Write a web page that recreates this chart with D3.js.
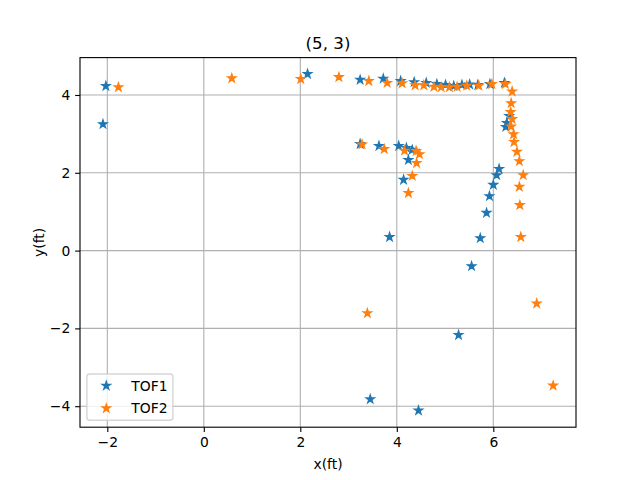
<!DOCTYPE html>
<html>
<head>
<meta charset="utf-8">
<script src="https://cdn.jsdelivr.net/npm/d3@7"></script>
<style>
  html, body { margin: 0; padding: 0; background: #fff; }
  svg { display: block; font-family: "DejaVu Sans", sans-serif; }
</style>
</head>
<body>
<svg id="chart" width="640" height="480"></svg>
<script>
// ---- Data ----
const title = "(5, 3)";
const xLabel = "x(ft)";
const yLabel = "y(ft)";
const seriesNames = ["TOF1", "TOF2"];
const seriesColors = ["#1f77b4", "#ff7f0e"];
const xTicks = [-2, 0, 2, 4, 6];
const yTicks = [-4, -2, 0, 2, 4];

const tof1X = [-2.03, -2.09, 2.15, 3.24, 3.72, 4.08, 4.36, 4.61, 4.83, 5.01, 5.18, 5.35, 5.51, 5.68, 5.93, 6.23,
  6.33, 6.28, 6.26, 6.12, 6.07, 6.00, 5.92, 5.86, 5.73, 5.55, 5.28, 4.45, 3.45,
  3.24, 3.63, 4.04, 4.20, 4.32, 4.24, 4.14, 3.85];
const tof1Y = [4.23, 3.25, 4.54, 4.39, 4.42, 4.36, 4.33, 4.31, 4.28, 4.26, 4.23, 4.26, 4.27, 4.26, 4.28, 4.31,
  3.46, 3.28, 3.18, 2.10, 1.94, 1.69, 1.40, 0.97, 0.32, -0.40, -2.17, -4.11, -3.82,
  2.74, 2.69, 2.69, 2.64, 2.59, 2.33, 1.82, 0.35];

const tof2X = [-1.77, 0.58, 2.01, 2.80, 3.42, 3.80, 4.11, 4.38, 4.56, 4.77, 4.92, 5.09, 5.25, 5.45, 5.70, 5.97, 6.25,
  6.39, 6.37, 6.36, 6.39, 6.37, 6.42, 6.43, 6.49, 6.54, 6.62, 6.54, 6.55, 6.57,
  6.90, 7.24, 3.39,
  3.28, 3.74, 4.16, 4.40, 4.47, 4.41, 4.32, 4.24];
const tof2Y = [4.20, 4.43, 4.41, 4.46, 4.36, 4.31, 4.30, 4.25, 4.25, 4.21, 4.20, 4.20, 4.21, 4.24, 4.24, 4.28, 4.28,
  4.09, 3.79, 3.56, 3.38, 3.19, 2.99, 2.79, 2.54, 2.30, 1.94, 1.64, 1.17, 0.35,
  -1.36, -3.47, -1.61,
  2.73, 2.61, 2.57, 2.56, 2.48, 2.25, 1.92, 1.48];

const series = [
  { name: seriesNames[0], color: seriesColors[0], x: tof1X, y: tof1Y },
  { name: seriesNames[1], color: seriesColors[1], x: tof2X, y: tof2Y }
];

// ---- Layout ----
const W = 640, H = 480;
const plot = { left: 80, right: 576, top: 57.6, bottom: 427.2 };
const fs = 13.89; // 10pt at 100 dpi

const xScale = d3.scaleLinear().domain([-2.566, 7.714]).range([plot.left, plot.right]);
const yScale = d3.scaleLinear().domain([-4.540, 4.961]).range([plot.bottom, plot.top]);

const fmt = v => (v < 0 ? "\u2212" + Math.abs(v) : String(v));

const svg = d3.select("#chart");

// grid
const grid = svg.append("g").attr("stroke", "#b0b0b0").attr("stroke-width", 1.11);
grid.selectAll("line.gx").data(xTicks).enter().append("line")
  .attr("x1", d => xScale(d)).attr("x2", d => xScale(d))
  .attr("y1", plot.top).attr("y2", plot.bottom);
grid.selectAll("line.gy").data(yTicks).enter().append("line")
  .attr("y1", d => yScale(d)).attr("y2", d => yScale(d))
  .attr("x1", plot.left).attr("x2", plot.right);

// star marker path (matplotlib '*')
function starPath(r) {
  const ri = r * 0.381966;
  const pts = [];
  for (let i = 0; i < 10; i++) {
    const a = Math.PI / 2 + i * Math.PI / 5;
    const rr = i % 2 === 0 ? r : ri;
    pts.push([rr * Math.cos(a), -rr * Math.sin(a)]);
  }
  return "M" + pts.map(p => p[0].toFixed(3) + "," + p[1].toFixed(3)).join("L") + "Z";
}
const star = starPath(4.17);

// points
series.forEach(s => {
  const data = s.x.map((v, i) => [v, s.y[i]]);
  svg.append("g").selectAll("path").data(data).enter().append("path")
    .attr("d", star)
    .attr("transform", d => `translate(${xScale(d[0])},${yScale(d[1])})`)
    .attr("fill", s.color)
    .attr("stroke", s.color)
    .attr("stroke-width", 1.39)
    .attr("stroke-linejoin", "miter");
});

// axes
const xAxis = d3.axisBottom(xScale).tickValues(xTicks).tickFormat(fmt).tickSize(4.86).tickPadding(4.86).tickSizeOuter(0);
const yAxis = d3.axisLeft(yScale).tickValues(yTicks).tickFormat(fmt).tickSize(4.86).tickPadding(4.86).tickSizeOuter(0);

const gx = svg.append("g").attr("transform", `translate(0,${plot.bottom})`).call(xAxis);
const gy = svg.append("g").attr("transform", `translate(${plot.left},0)`).call(yAxis);
[gx, gy].forEach(g => {
  g.select(".domain").remove();
  g.selectAll(".tick line").attr("stroke", "#000").attr("stroke-width", 1.11);
  g.selectAll(".tick text").attr("fill", "#000").attr("font-size", fs).attr("font-family", "DejaVu Sans");
});
gx.selectAll(".tick text").attr("dy", "0.76em");

// spines
svg.append("rect")
  .attr("x", plot.left).attr("y", plot.top)
  .attr("width", plot.right - plot.left).attr("height", plot.bottom - plot.top)
  .attr("fill", "none").attr("stroke", "#000").attr("stroke-width", 1.11);

// title & labels
svg.append("text").attr("x", (plot.left + plot.right) / 2).attr("y", 49)
  .attr("text-anchor", "middle").attr("font-size", 16.67).attr("fill", "#000").text(title);
svg.append("text").attr("x", (plot.left + plot.right) / 2).attr("y", 469)
  .attr("text-anchor", "middle").attr("font-size", fs).attr("fill", "#000").text(xLabel);
svg.append("text").attr("transform", `translate(44,${(plot.top + plot.bottom) / 2}) rotate(-90)`)
  .attr("text-anchor", "middle").attr("font-size", fs).attr("fill", "#000").text(yLabel);

// legend
const lg = { x: 86.9, y: 374, w: 86, h: 46.3 };
svg.append("rect").attr("x", lg.x).attr("y", lg.y).attr("width", lg.w).attr("height", lg.h)
  .attr("rx", 2.8).attr("ry", 2.8)
  .attr("fill", "#fff").attr("fill-opacity", 0.8)
  .attr("stroke", "#cccccc").attr("stroke-opacity", 0.8).attr("stroke-width", 1.39);
const rowY = [385.7, 408.3];
series.forEach((s, i) => {
  svg.append("path").attr("d", star)
    .attr("transform", `translate(106.3,${rowY[i]})`)
    .attr("fill", s.color).attr("stroke", s.color).attr("stroke-width", 1.39);
  svg.append("text").attr("x", 131.3).attr("y", rowY[i] + 5)
    .attr("font-size", fs).attr("fill", "#000").text(s.name);
});
</script>
</body>
</html>
